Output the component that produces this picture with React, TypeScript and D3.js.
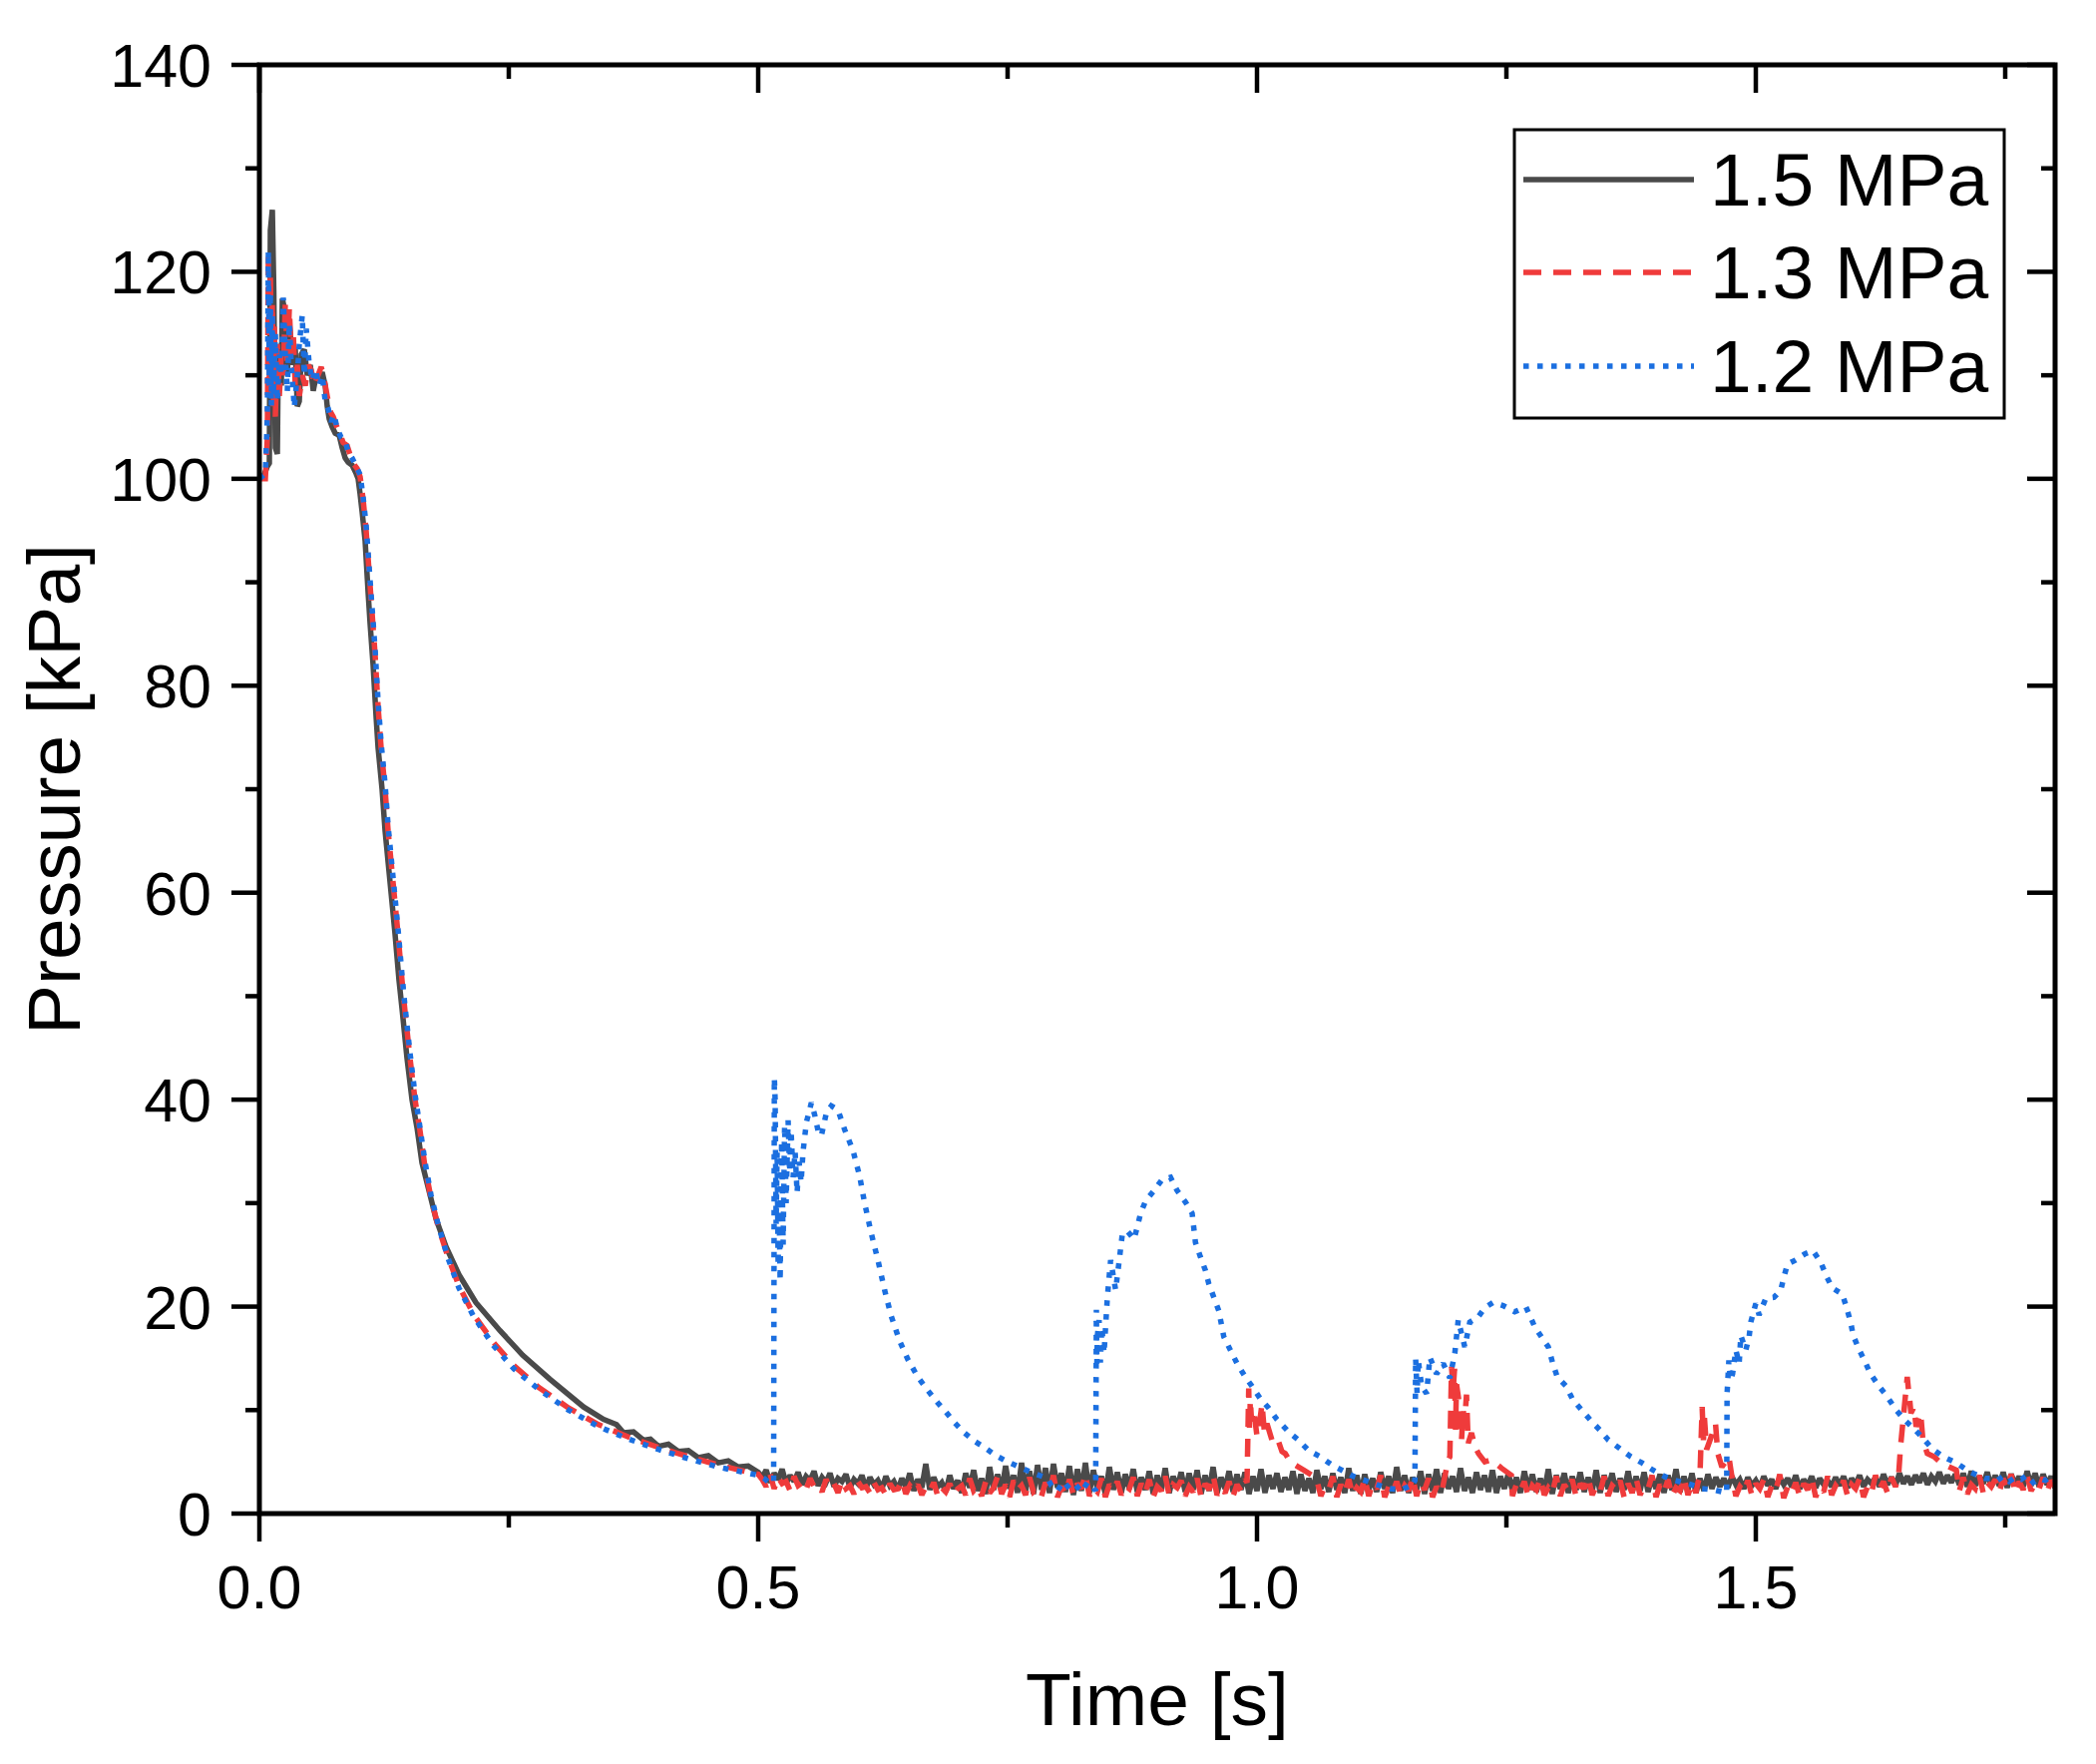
import React from "react";
import * as d3 from "d3";

type P = [number, number];

// ---------- axis / labels ----------
const xMajor = [0, 0.5, 1.0, 1.5];
const xMinor = [0.25, 0.75, 1.25, 1.75];
const yMajor = [0, 20, 40, 60, 80, 100, 120, 140];
const yMinor = [10, 30, 50, 70, 90, 110, 130];
const xLabels = ["0.0", "0.5", "1.0", "1.5"];
const seriesNames = ["1.5 MPa", "1.3 MPa", "1.2 MPa"];

// ---------- 1.5 MPa (solid gray) ----------
const grayMain: P[] = [
  [0, 100], [0.004, 100.2], [0.008, 101.2], [0.010, 101.5], [0.011, 124], [0.013, 126], [0.0145, 118],
  [0.016, 103], [0.018, 102.4], [0.019, 112], [0.021, 113], [0.022, 109], [0.023, 117.4], [0.026, 116],
  [0.028, 110], [0.030, 115], [0.032, 113], [0.034, 111], [0.036, 112.5], [0.038, 107], [0.040, 107.5],
  [0.042, 112], [0.045, 112.5], [0.048, 110], [0.051, 111], [0.054, 108.5], [0.057, 110], [0.060, 109.6],
  [0.063, 110.3], [0.066, 109], [0.068, 107], [0.070, 105.8], [0.073, 105], [0.076, 104.4], [0.080, 104.2],
  [0.083, 103], [0.086, 102], [0.089, 101.6], [0.093, 101.3], [0.097, 100.5], [0.099, 100], [0.101, 98.5],
  [0.103, 96.8], [0.106, 94], [0.109, 89], [0.111, 86], [0.114, 82], [0.117, 77], [0.119, 74], [0.123, 70],
  [0.126, 66], [0.130, 62], [0.133, 59], [0.136, 56], [0.140, 51.5], [0.143, 48.8], [0.148, 44], [0.153, 40],
  [0.158, 37.3], [0.163, 33.9], [0.170, 31.2], [0.177, 28.5], [0.187, 25.8], [0.200, 23.1], [0.217, 20.4],
  [0.241, 17.7], [0.264, 15.3], [0.291, 13.0], [0.325, 10.3], [0.345, 9.1], [0.358, 8.6], [0.365, 7.8],
  [0.375, 7.9], [0.385, 7.1], [0.392, 7.2], [0.40, 6.5], [0.41, 6.7], [0.42, 6.0], [0.43, 6.1], [0.44, 5.4],
  [0.45, 5.6], [0.46, 4.9], [0.47, 5.1], [0.48, 4.5], [0.49, 4.6], [0.5, 4.0],
];
const grayNoise = [
  3.5, 4.2, 3.0, 3.9, 3.3, 4.3, 2.9, 3.7, 3.1, 4.0,
  2.8, 3.6, 3.2, 4.1, 2.7, 3.5, 3.0, 3.9, 2.6, 3.4,
  3.1, 3.8, 2.5, 3.3, 2.9, 3.7, 2.4, 3.5, 2.8, 3.2,
  2.4, 3.6, 2.7, 3.1, 2.3, 3.4, 2.6, 3.9, 2.2, 3.3,
  2.5, 4.8, 2.3, 3.5, 2.6, 3.0, 2.1, 3.7, 2.4, 3.2,
  2.0, 3.9, 2.5, 4.2, 2.2, 3.4, 1.9, 4.5, 2.3, 3.8,
  2.1, 4.6, 2.4, 3.7, 2.0, 4.9, 2.2, 4.1, 1.9, 4.7,
  2.3, 4.4, 2.0, 4.8, 2.5, 3.9, 2.1, 4.6, 1.8, 4.3,
  2.2, 4.9, 2.0, 4.2, 2.4, 3.6, 1.9, 4.5, 2.3, 4.0,
  2.0, 3.8, 2.4, 4.3, 2.1, 3.5, 2.3, 4.1, 1.9, 3.7,
  2.2, 4.4, 2.0, 3.6, 2.5, 4.0, 2.1, 3.9, 2.3, 4.2,
  1.9, 3.7, 2.2, 4.5, 2.0, 3.5, 2.4, 4.1, 2.1, 3.8,
  2.3, 4.0, 1.9, 3.6, 2.2, 4.3, 2.0, 3.7, 2.4, 3.9,
  2.1, 3.5, 2.3, 4.1, 1.9, 3.8, 2.2, 3.4, 2.0, 4.2,
  2.4, 3.6, 2.1, 3.9, 2.3, 3.5, 2.0, 4.4, 2.2, 3.7,
  1.9, 3.8, 2.3, 3.4, 2.1, 4.0, 2.4, 3.6, 2.0, 4.5,
  2.2, 3.7, 2.0, 3.5, 2.3, 4.1, 1.9, 3.8, 2.2, 4.3,
  2.0, 3.9, 2.4, 3.6, 2.1, 4.4, 2.2, 3.5, 2.0, 4.0,
  2.3, 3.7, 2.1, 4.2, 2.0, 3.6, 2.4, 3.9, 2.2, 3.5,
  2.0, 4.1, 2.3, 3.8, 2.1, 3.4, 2.2, 4.3, 1.9, 3.7,
  2.4, 3.9, 2.0, 3.6, 2.3, 4.0, 2.1, 3.5, 2.2, 4.2,
  2.0, 3.7, 2.4, 3.9, 2.1, 3.4, 2.3, 4.1, 2.0, 3.6,
  2.2, 4.0, 2.1, 3.5, 2.4, 3.8, 2.0, 3.7, 2.3, 4.3,
  2.1, 3.6, 2.3, 3.9, 2.0, 3.4, 2.2, 3.8, 2.4, 3.5,
  2.6, 3.4, 2.5, 3.6, 2.8, 3.3, 2.4, 3.5, 2.7, 3.2,
  2.5, 3.6, 2.7, 3.3, 2.4, 3.5, 2.8, 3.4, 2.6, 3.7,
  2.4, 3.3, 2.7, 3.6, 2.5, 3.4, 2.8, 3.2, 2.6, 3.5,
  2.7, 3.6, 2.5, 3.4, 2.8, 3.7, 2.6, 3.3, 2.9, 3.5,
  2.6, 3.8, 2.8, 3.5, 2.7, 3.9, 2.9, 3.6, 2.8, 3.7,
  3.0, 3.9, 2.8, 3.6, 3.1, 4.0, 2.9, 3.7, 3.0, 3.8,
  2.8, 3.9, 2.6, 4.1, 2.7, 3.6, 2.9, 4.0, 2.6, 3.7,
  2.7, 4.0, 2.5, 3.8, 2.8, 3.6, 2.6, 4.1, 2.7, 3.9,
  2.6, 3.8, 2.8, 3.6, 2.5, 3.9, 2.7, 3.7, 2.8, 3.6,
];

// ---------- 1.3 MPa (dashed red) ----------
const redMain: P[] = [
  [0, 100], [0.006, 100], [0.008, 104], [0.009, 122], [0.010, 108], [0.011, 120], [0.012, 110], [0.013, 117],
  [0.014, 107], [0.015, 115], [0.016, 106], [0.018, 113], [0.020, 108], [0.022, 112], [0.024, 110],
  [0.026, 117], [0.028, 111], [0.030, 116.5], [0.032, 112], [0.034, 114], [0.036, 109], [0.038, 111],
  [0.040, 108], [0.043, 110], [0.046, 109], [0.049, 111], [0.052, 110.5], [0.055, 109], [0.058, 109.8],
  [0.062, 110.8], [0.065, 109.6], [0.068, 108], [0.071, 106.5], [0.074, 106], [0.077, 105.2], [0.080, 104.5],
  [0.084, 103.5], [0.088, 103.2], [0.091, 102.3], [0.094, 101.5], [0.098, 101], [0.101, 100.2], [0.104, 98],
  [0.107, 95], [0.110, 91], [0.113, 87], [0.116, 83], [0.119, 78], [0.122, 74], [0.126, 70], [0.129, 66],
  [0.133, 62], [0.136, 59], [0.139, 56], [0.143, 51.5], [0.146, 48.5], [0.151, 44], [0.156, 40], [0.161, 37],
  [0.166, 33.5], [0.172, 30.5], [0.179, 27.8], [0.189, 24.8], [0.200, 22], [0.215, 19.2], [0.235, 16.5],
  [0.255, 14.3], [0.28, 12.2], [0.31, 10.2], [0.34, 8.6], [0.37, 7.4], [0.40, 6.4], [0.43, 5.5], [0.46, 4.7],
  [0.49, 4.0], [0.5, 3.8],
];
const redNoise = [
  3.3, 2.6, 3.8, 2.4, 3.5, 2.9, 3.1, 2.2, 3.6, 2.7,
  3.0, 2.3, 3.4, 2.6, 2.8, 2.1, 3.3, 2.5, 2.9, 2.0,
  3.2, 2.4, 2.7, 1.9, 3.1, 2.5, 2.6, 2.0, 3.0, 2.3,
  2.5, 1.8, 2.9, 2.3, 2.4, 3.2, 1.9, 2.7, 2.2, 2.8,
  1.8, 2.6, 2.2, 3.0, 1.7, 2.5, 2.1, 2.9, 1.9, 2.4,
  2.7, 1.8, 3.4, 2.2, 2.6, 1.7, 3.1, 2.0, 2.5, 3.6,
  1.9, 2.8, 1.6, 3.2, 2.3, 2.7, 1.8, 3.5, 2.1, 2.4,
  1.7, 3.0, 2.2, 3.7, 1.6, 2.6, 2.0, 3.3, 1.8, 2.9,
  2.4, 3.8, 1.7, 2.5, 2.1, 3.4, 1.6, 2.8, 2.3, 3.1,
  1.8, 2.7, 2.4, 3.5, 1.7, 2.9, 2.0, 3.3, 1.6, 2.6,
  2.2, 3.6, 1.8, 2.8, 2.5, 3.2, 1.7, 2.6, 2.1, 3.4,
  1.6, 2.9, 2.3, 3.7, 1.8, 2.5, 2.0, 3.1, 1.7, 2.8,
  2.2, 3.3, 1.6, 2.7, 2.4, 3.6, 1.9, 2.6, 1.7, 3.0,
  2.3, 3.4, 1.8, 2.9, 2.1, 3.5, 1.6, 2.7, 2.2, 3.2,
  1.7, 2.6, 2.3, 3.6, 1.6, 2.8, 2.0, 3.3, 1.8, 2.5,
  2.1, 3.4, 1.7, 2.9, 2.4, 3.7, 1.6, 2.6, 2.0, 3.1,
  1.8, 2.7, 2.2, 3.5, 1.7, 3.0, 2.3, 3.4, 1.6, 2.6,
  2.0, 3.2, 1.7, 2.8, 2.3, 3.6, 1.5, 2.7, 2.1, 3.3,
  1.8, 2.9, 2.4, 3.5, 1.6, 2.6, 2.0, 3.7, 1.7, 2.8,
  2.2, 3.1, 1.6, 2.7, 2.3, 3.4, 1.8, 2.5, 2.0, 3.6,
  1.7, 2.8, 2.2, 3.3, 1.6, 2.9, 2.4, 3.5, 1.8, 2.6,
  2.1, 3.6, 1.7, 2.7, 2.3, 3.2, 1.6, 2.9, 2.0, 3.4,
  1.8, 2.6, 2.4, 3.7, 1.6, 2.8, 2.1, 3.3, 1.7, 2.5,
  2.2, 3.5, 1.8, 2.9, 2.0, 3.1, 1.6, 2.7, 2.3, 3.4,
  1.9, 2.8, 2.3, 3.6, 1.7, 2.6, 2.1, 3.2, 1.8, 2.9,
  2.4, 3.3, 1.6, 2.7, 2.2, 3.8, 1.5, 2.6, 2.0, 3.0,
  1.7, 2.9, 2.3, 3.5, 1.6, 2.5, 2.1, 3.6, 1.8, 2.7,
  2.2, 3.2, 1.7, 2.8, 2.4, 3.4, 1.6, 2.6, 2.0, 3.7,
  2.4, 3.1, 2.0, 3.5, 2.6, 3.3, 2.1, 3.8, 2.5, 3.0,
  2.3, 3.6, 2.1, 3.2, 2.6, 3.9, 2.2, 3.4, 2.5, 3.1,
  2.2, 3.5, 1.9, 2.8, 2.4, 3.7, 2.0, 3.0, 2.6, 3.3,
  2.1, 3.4, 2.5, 3.8, 2.0, 3.1, 2.3, 3.6, 2.2, 2.9,
  2.4, 3.5, 2.1, 3.2, 2.6, 3.7, 2.2, 3.0, 2.5, 3.3,
];
const redSpike1: P[] = [
  [0.990, 3.0], [0.9917, 12.1], [0.9925, 8.0], [0.9933, 11.0], [0.9945, 9.0], [0.9967, 10.0], [1.0, 7.5],
  [1.0017, 8.1], [1.005, 10.6], [1.0075, 7.8], [1.01, 8.7], [1.015, 7.1], [1.02, 7.4], [1.025, 6.0],
  [1.0283, 5.8], [1.0333, 5.0], [1.04, 4.6], [1.0467, 4.2], [1.0567, 3.6],
];
const redSpike2: P[] = [
  [1.185, 2.0], [1.1883, 3.6], [1.1917, 5.2], [1.1933, 5.5], [1.195, 14.2], [1.1967, 12], [1.198, 14],
  [1.199, 8.1], [1.2, 12.5], [1.2033, 10.3], [1.205, 7.1], [1.2067, 10], [1.208, 8.7], [1.21, 11.5],
  [1.2117, 6.8], [1.215, 7.8], [1.2183, 6.5], [1.222, 5.8], [1.2283, 5.0], [1.235, 5.2], [1.245, 4.4],
  [1.255, 3.7],
];
const redSpike3: P[] = [
  [1.442, 3.0], [1.444, 3.6], [1.4462, 10.3], [1.4475, 7.1], [1.4484, 9.4], [1.4507, 6.2], [1.4552, 7.4],
  [1.4596, 8.7], [1.4619, 5.8], [1.466, 4.5], [1.473, 5.5], [1.475, 4.2],
];
const redSpike4: P[] = [
  [1.643, 3.5], [1.6451, 6.5], [1.6518, 13.2], [1.653, 12], [1.654, 11.3], [1.6555, 9.7], [1.6585, 10.3],
  [1.6607, 8.4], [1.6652, 9.7], [1.6675, 7.1], [1.6719, 5.8], [1.6787, 5.5], [1.6854, 4.9], [1.701, 4.2],
];

// ---------- 1.2 MPa (dotted blue) ----------
const blueMain: P[] = [
  [0, 100], [0.006, 100.5], [0.008, 106], [0.009, 122], [0.010, 109], [0.011, 118], [0.012, 107],
  [0.013, 116], [0.014, 108], [0.016, 114], [0.018, 107.5], [0.020, 112], [0.022, 110], [0.024, 117.5],
  [0.026, 112], [0.028, 108.4], [0.030, 115], [0.032, 111], [0.035, 106.9], [0.038, 110], [0.040, 113],
  [0.043, 115.8], [0.045, 110], [0.047, 114.5], [0.050, 111], [0.053, 109.5], [0.056, 110.6], [0.060, 109],
  [0.063, 110], [0.066, 107.5], [0.069, 106.8], [0.072, 105.5], [0.075, 106.2], [0.078, 104.8], [0.082, 104],
  [0.086, 103.7], [0.089, 102.6], [0.093, 102], [0.097, 101.2], [0.101, 100.4], [0.104, 98.2], [0.107, 95.5],
  [0.110, 91.5], [0.113, 87.5], [0.116, 83.5], [0.119, 78.5], [0.122, 74.5], [0.126, 70.5], [0.129, 66.5],
  [0.133, 62.5], [0.136, 59.5], [0.139, 56.5], [0.143, 52], [0.146, 49], [0.151, 44.5], [0.156, 40.5],
  [0.161, 37.3], [0.166, 34], [0.172, 30.8], [0.179, 28], [0.189, 24.7], [0.200, 21.8], [0.215, 19],
  [0.235, 16.2], [0.255, 14.0], [0.28, 12.0], [0.31, 10.0], [0.34, 8.4], [0.37, 7.2], [0.40, 6.2],
  [0.43, 5.3], [0.46, 4.5], [0.49, 3.9], [0.5, 3.7],
];
const blueNoise = [
  3.4, 2.9, 3.6, 2.7, 3.3, 2.6, 3.5, 2.8, 3.2, 2.5,
  3.4, 2.6, 3.1, 2.7, 3.3, 2.5, 3.2, 2.8, 3.0, 2.6,
  3.1, 2.4, 3.3, 2.6, 2.9, 2.5, 3.2, 2.3, 3.0, 2.6,
  2.9, 2.4, 3.1, 2.5, 2.8, 2.3, 3.0, 2.6, 2.7, 2.4,
  2.9, 2.2, 3.1, 2.5, 2.8, 2.3, 3.0, 2.4, 2.7, 2.2,
  3.1, 2.4, 2.8, 2.1, 3.0, 2.5, 2.7, 2.2, 2.9, 2.3,
  2.8, 2.1, 3.0, 2.4, 2.7, 2.2, 2.9, 2.5, 2.6, 2.3,
  2.8, 2.2, 3.0, 2.4, 2.7, 2.1, 2.9, 2.3, 2.6, 2.5,
  2.8, 2.2, 3.0, 2.4, 2.7, 2.3, 2.9, 2.1, 2.6, 2.4,
  2.8, 2.2, 3.0, 2.5, 2.7, 2.3, 2.9, 2.2, 2.6, 2.4,
  2.7, 2.1, 2.9, 2.4, 2.6, 2.2, 2.8, 2.3, 2.5, 2.1,
  2.7, 2.4, 2.9, 2.2, 2.6, 2.3, 2.8, 2.1, 2.5, 2.4,
  2.7, 2.2, 2.9, 2.3, 2.6, 2.4, 2.8, 2.2, 2.5, 2.3,
  2.7, 2.1, 2.9, 2.4, 2.6, 2.2, 2.8, 2.3, 2.5, 2.4,
  2.7, 2.2, 2.9, 2.3, 2.6, 2.1, 2.8, 2.4, 2.5, 2.2,
  2.6, 2.3, 2.8, 2.2, 2.5, 2.4, 2.7, 2.1, 2.4, 2.3,
  2.6, 2.2, 2.8, 2.4, 2.5, 2.3, 2.7, 2.2, 2.4, 2.1,
  2.6, 2.3, 2.8, 2.2, 2.5, 2.4, 2.7, 2.3, 2.4, 2.2,
  2.6, 2.4, 2.8, 2.3, 2.5, 2.2, 2.7, 2.4, 2.6, 2.3,
  3.2, 3.6, 3.1, 3.5, 3.3, 3.7, 3.0, 3.4, 3.2, 3.6,
  3.1, 3.5, 3.3, 3.8, 3.0, 3.4, 3.2, 3.6, 3.1, 3.5,
  3.3, 3.7, 3.0, 3.4, 3.2, 3.6, 3.1, 3.5, 3.3, 3.4,
];
const blueBump1: P[] = [
  [0.5155, 3.0], [0.5162, 42.1], [0.517, 40], [0.518, 28], [0.519, 35], [0.520, 24], [0.521, 30],
  [0.522, 22.5], [0.5235, 36], [0.525, 26], [0.5265, 37.5], [0.528, 30], [0.53, 38], [0.5315, 33],
  [0.533, 37], [0.535, 32.5], [0.537, 35], [0.539, 31], [0.541, 34], [0.543, 32], [0.545, 35],
  [0.5483, 37.8], [0.5533, 39.7], [0.5567, 38.5], [0.560, 37], [0.5633, 36.5], [0.5683, 38.7],
  [0.5733, 39.4], [0.58, 39], [0.5867, 37.1], [0.595, 35.1], [0.6017, 32.6], [0.6067, 30], [0.6133, 27.1],
  [0.62, 24.5], [0.6267, 21.6], [0.6333, 19.1], [0.6417, 16.7], [0.65, 14.9], [0.66, 13.2], [0.67, 11.9],
  [0.68, 10.7], [0.6883, 9.8], [0.6967, 8.8], [0.7067, 7.8], [0.7167, 7.0], [0.7267, 6.4], [0.7383, 5.6],
  [0.75, 5.0], [0.7617, 4.5], [0.7733, 4.0], [0.79, 3.4],
];
const blueBump2: P[] = [
  [0.8383, 2.2], [0.839, 19.7], [0.8395, 14.5], [0.840, 17.2], [0.8417, 18.7], [0.843, 14.6], [0.8445, 18],
  [0.8467, 15.5], [0.85, 20.9], [0.8533, 24.5], [0.8583, 21.6], [0.8617, 24.3], [0.865, 27.0], [0.87, 27.3],
  [0.8767, 26.5], [0.88, 27.7], [0.8833, 29], [0.8883, 30.2], [0.8967, 31.2], [0.905, 32.3], [0.9133, 32.5],
  [0.92, 31.2], [0.9283, 30.1], [0.935, 29], [0.9383, 26.2], [0.9433, 24.8], [0.9483, 23.5], [0.9517, 22.2],
  [0.9567, 20.9], [0.9617, 19.6], [0.9667, 17.1], [0.9733, 15.8], [0.98, 14.5], [0.9883, 13.2], [0.995, 12.3],
  [1.0033, 11.1], [1.0117, 10.2], [1.02, 9.1], [1.0317, 7.9], [1.0417, 7.1], [1.0517, 6.1], [1.0633, 5.5],
  [1.075, 4.7], [1.085, 4.2], [1.0967, 3.6], [1.1083, 3.2], [1.12, 2.8], [1.1333, 2.4], [1.145, 2.3],
  [1.152, 2.6],
];
const blueBump3: P[] = [
  [1.1583, 3.2], [1.159, 15.0], [1.1605, 11.6], [1.1617, 14.8], [1.165, 12.3], [1.17, 11.6], [1.1733, 15.1],
  [1.18, 13.5], [1.1867, 14.5], [1.1933, 13.1], [1.1983, 15.5], [1.2017, 18.7], [1.2083, 16.1], [1.2133, 18.5],
  [1.2217, 19.0], [1.2283, 19.9], [1.2367, 20.4], [1.2467, 20.1], [1.2583, 19.5], [1.2696, 19.96],
  [1.2786, 18.0], [1.292, 16.1], [1.2965, 14.5], [1.301, 13.2], [1.3099, 12.3], [1.3166, 11.0], [1.3255, 10.0],
  [1.3345, 9.0], [1.3434, 8.1], [1.3523, 7.1], [1.3635, 6.3], [1.3747, 5.5], [1.3859, 4.9], [1.397, 4.2],
  [1.4082, 3.6], [1.4194, 3.2], [1.435, 2.8], [1.4462, 2.4], [1.4574, 2.3], [1.4708, 2.0],
];
const blueBump4: P[] = [
  [1.4712, 11.6], [1.473, 14.8], [1.4745, 12.9], [1.4767, 13.5], [1.48, 15.8], [1.4833, 14.5], [1.485, 17.2],
  [1.49, 15.8], [1.4933, 17.1], [1.495, 18.5], [1.5, 20.3], [1.5033, 19.2], [1.51, 20.8], [1.5183, 20.9],
  [1.525, 21.6], [1.5283, 22.9], [1.5317, 24.1], [1.54, 24.5], [1.5493, 25.1], [1.5573, 25.4], [1.565, 24.3],
  [1.571, 22.9], [1.5767, 21.8], [1.5867, 21.2], [1.591, 19.9], [1.595, 18.5], [1.5977, 17.2], [1.6033, 15.9],
  [1.6093, 14.7], [1.615, 13.5], [1.6228, 12.4], [1.6317, 11.3], [1.6407, 10.0], [1.6496, 9.0], [1.6585, 8.2],
  [1.6675, 7.3], [1.6764, 6.3], [1.6876, 5.5], [1.701, 4.9], [1.715, 4.0], [1.73, 3.4],
];

// sampling of the noise arrays (time of first value, time between values)
const DENSE_T0 = 0.504;
const DENSE_STEP = 0.004;
const BLUE_T0 = 0.506;
const BLUE_STEP = 0.006;

function buildSeries(main: P[], noise: number[], t0: number, step: number, events: P[][]): P[] {
  const pts: P[] = [...main];
  const windows = events.map((e) => [e[0][0], e[e.length - 1][0]]);
  noise.forEach((v, i) => {
    const t = t0 + i * step;
    if (!windows.some(([a, b]) => t >= a - 1e-9 && t <= b + 1e-9)) pts.push([t, v]);
  });
  events.forEach((e) => pts.push(...e));
  pts.sort((a, b) => a[0] - b[0]);
  return pts;
}

const W = 2101;
const H = 1768;
const L = 260, R = 2060, T = 65, B = 1517;
const FONT = "'Liberation Sans', Arial, Helvetica, sans-serif";

const COLORS = ["#4a4a4a", "#ef3b3b", "#1b6fe0"];
const DASHES = ["none", "18 12", "5.5 8.5"];
const LW = 5.5;

export default function App() {
  const x = d3.scaleLinear().domain([0, 1.8]).range([L, R]);
  const y = d3.scaleLinear().domain([0, 140]).range([B, T]);
  const line = d3
    .line<P>()
    .x((d) => x(d[0]))
    .y((d) => y(d[1]));

  const series = [
    buildSeries(grayMain, grayNoise, DENSE_T0, DENSE_STEP, []),
    buildSeries(redMain, redNoise, DENSE_T0, DENSE_STEP, [redSpike1, redSpike2, redSpike3, redSpike4]),
    buildSeries(blueMain, blueNoise, BLUE_T0, BLUE_STEP, [blueBump1, blueBump2, blueBump3, blueBump4]),
  ];

  const axisW = 5;
  const tickW = 4.5;
  const majLen = 28;
  const minLen = 14;

  const legendRows = [180, 273, 367];

  return (
    <svg
      width={W}
      height={H}
      viewBox={`0 0 ${W} ${H}`}
      style={{ position: "absolute", left: 0, top: 0, background: "#fff" }}
      fontFamily={FONT}
    >
      <rect x={0} y={0} width={W} height={H} fill="#fff" />
      <defs>
        <clipPath id="plot">
          <rect x={L} y={T} width={R - L} height={B - T} />
        </clipPath>
      </defs>

      {/* data */}
      <g clipPath="url(#plot)">
        {series.map((s, i) => (
          <path
            key={i}
            d={line(s) || ""}
            fill="none"
            stroke={COLORS[i]}
            strokeWidth={LW}
            strokeDasharray={DASHES[i]}
            strokeLinejoin="miter"
            strokeMiterlimit={2}
          />
        ))}
      </g>

      {/* ticks */}
      <g stroke="#000" strokeWidth={tickW}>
        {xMajor.map((t) => (
          <g key={"xM" + t}>
            <line x1={x(t)} x2={x(t)} y1={B} y2={B + majLen} />
            <line x1={x(t)} x2={x(t)} y1={T} y2={T + majLen} />
          </g>
        ))}
        {xMinor.map((t) => (
          <g key={"xm" + t}>
            <line x1={x(t)} x2={x(t)} y1={B} y2={B + minLen} />
            <line x1={x(t)} x2={x(t)} y1={T} y2={T + minLen} />
          </g>
        ))}
        {yMajor.map((v) => (
          <g key={"yM" + v}>
            <line x1={L - majLen} x2={L} y1={y(v)} y2={y(v)} />
            <line x1={R - majLen} x2={R} y1={y(v)} y2={y(v)} />
          </g>
        ))}
        {yMinor.map((v) => (
          <g key={"ym" + v}>
            <line x1={L - minLen} x2={L} y1={y(v)} y2={y(v)} />
            <line x1={R - minLen} x2={R} y1={y(v)} y2={y(v)} />
          </g>
        ))}
      </g>

      {/* frame */}
      <rect x={L} y={T} width={R - L} height={B - T} fill="none" stroke="#000" strokeWidth={axisW} />

      {/* tick labels */}
      <g fontSize={61} fill="#000">
        {xMajor.map((t, i) => (
          <text key={"xl" + t} x={x(t)} y={1612} textAnchor="middle">
            {xLabels[i]}
          </text>
        ))}
        {yMajor.map((v) => (
          <text key={"yl" + v} x={212} y={y(v) + 22} textAnchor="end">
            {String(v)}
          </text>
        ))}
      </g>

      {/* axis titles */}
      <text x={(L + R) / 2} y={1729} fontSize={75} textAnchor="middle" fill="#000">
        Time [s]
      </text>
      <text
        transform={`translate(80, ${(T + B) / 2}) rotate(-90)`}
        fontSize={75}
        textAnchor="middle"
        fill="#000"
      >
        Pressure [kPa]
      </text>

      {/* legend */}
      <rect x={1518} y={130} width={491} height={289} fill="#fff" stroke="#000" strokeWidth={3} />
      {seriesNames.map((n, i) => (
        <g key={n}>
          <line
            x1={1527}
            x2={1698}
            y1={legendRows[i]}
            y2={legendRows[i]}
            stroke={COLORS[i]}
            strokeWidth={LW}
            strokeDasharray={DASHES[i]}
          />
          <text x={1714} y={legendRows[i] + 26} fontSize={75} fill="#000">
            {n}
          </text>
        </g>
      ))}
    </svg>
  );
}
